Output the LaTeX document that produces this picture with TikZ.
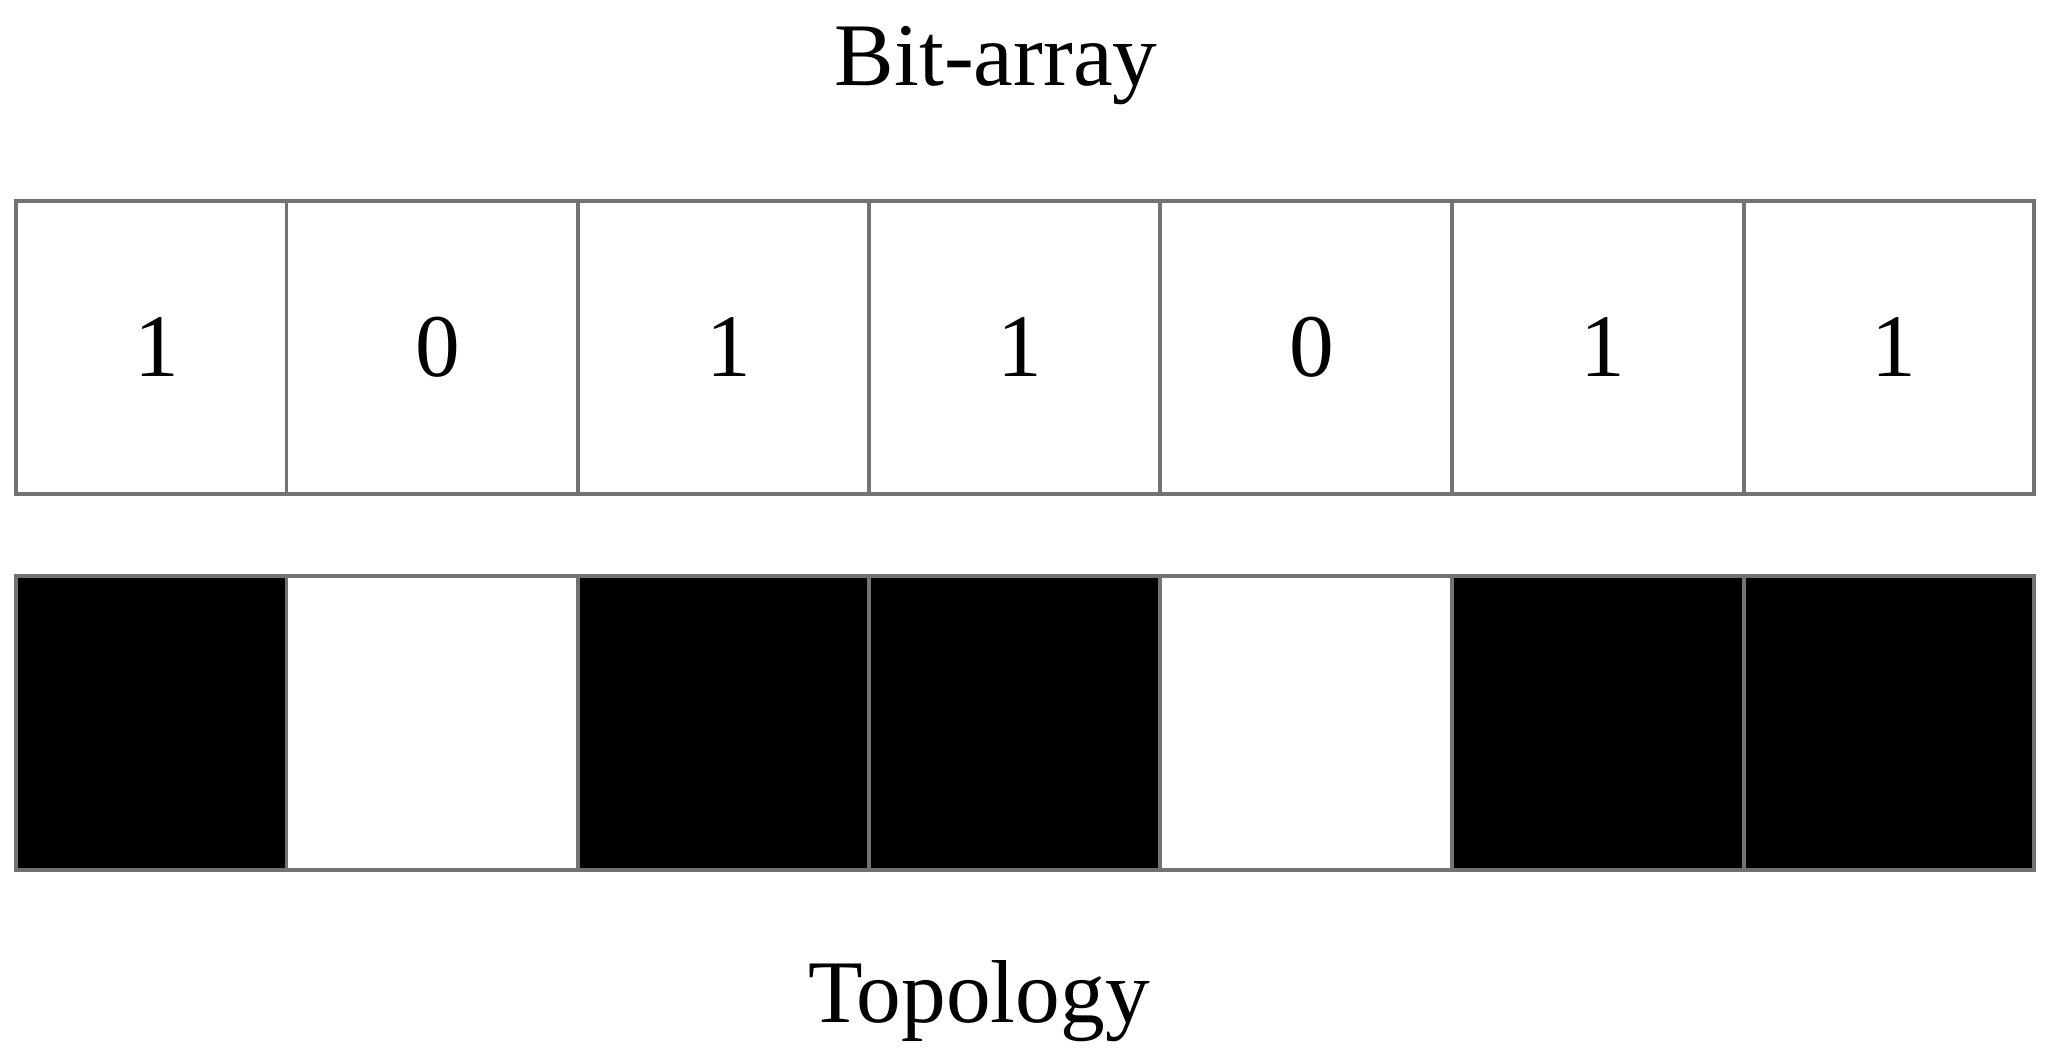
\documentclass[tikz,border=0pt]{standalone}
\usepackage{fontspec}
\setmainfont{Liberation Serif}
\begin{document}
\begin{tikzpicture}[x=1pt,y=-1pt,
  cell/.style={draw=gray!90!black,line width=3pt,fill=white},
  blk/.style={draw=gray!90!black,line width=3pt,fill=black},
  lab/.style={font=\fontsize{68}{80}\selectfont}]
\useasboundingbox (0,0) rectangle (1560,800);
\node[lab] (title) at (758,50) {Bit-array};
\node[lab] (topo) at (745,762) {Topology};
\def\xs{{12,218,440,661,883,1105,1327,1548}}
\foreach \i/\b in {0/1,1/0,2/1,3/1,4/0,5/1,6/1}{
  \pgfmathsetmacro\xa{\xs[\i]}
  \pgfmathsetmacro\xb{\xs[\i+1]}
  \draw[cell] (\xa,153) rectangle (\xb,376);
  \node[lab] (d\i) at ({(\xa+\xb)/2+4},264) {\b};
  \ifnum\b=1
    \draw[blk] (\xa,438) rectangle (\xb,662);
  \else
    \draw[cell] (\xa,438) rectangle (\xb,662);
  \fi
}
\end{tikzpicture}
\end{document}
